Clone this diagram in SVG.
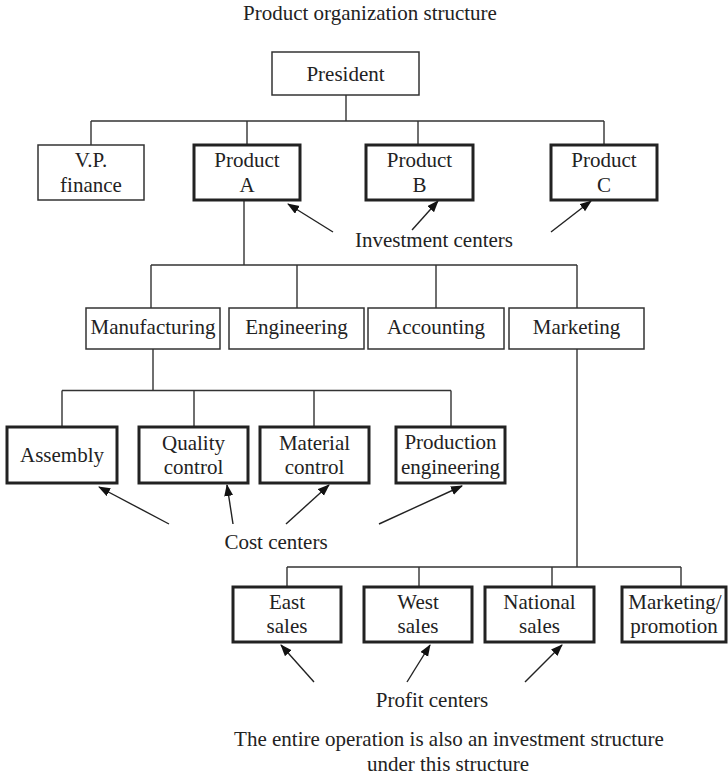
<svg xmlns="http://www.w3.org/2000/svg" width="728" height="776" viewBox="0 0 728 776">
  <style>
    text { font-family: "Liberation Serif", "Times New Roman", serif; font-size: 21px; fill: #222; text-anchor: middle; }
    .box { fill: #fff; stroke: #333; stroke-width: 1.5; }
    .center { fill: #fff; stroke: #222; stroke-width: 3; }
    .wire { fill: none; stroke: #333; stroke-width: 1.4; }
    .ptr { fill: none; stroke: #222; stroke-width: 1.4; marker-end: url(#head); }
  </style>
  <defs>
    <marker id="head" markerUnits="userSpaceOnUse" markerWidth="12" markerHeight="10" refX="11" refY="4.5" orient="auto">
      <path d="M0,0 L12,4.5 L0,9 Z" fill="#111"/>
    </marker>
  </defs>

  <text x="370" y="20">Product organization structure</text>

  <!-- tree connectors -->
  <g id="connectors">
    <path class="wire" d="M346,95 V121 M91,121 H604 M91,121 V145 M247,121 V145 M418,121 V145 M604,121 V145"/>
    <path class="wire" d="M244,200 V265 M151,265 H577 M151,265 V308 M297,265 V308 M436,265 V308 M577,265 V308"/>
    <path class="wire" d="M153,349 V390.5 M62,390.5 H451 M62,390.5 V427 M194,390.5 V427 M314,390.5 V427 M451,390.5 V427"/>
    <path class="wire" d="M577,349 V567 M287,567 H681 M287,567 V587 M419,567 V587 M552,567 V587 M681,567 V587"/>
  </g>

  <!-- responsibility-centre pointers -->
  <g id="pointers">
    <line class="ptr" x1="333" y1="232" x2="288" y2="204"/>
    <line class="ptr" x1="412" y1="230" x2="438" y2="201"/>
    <line class="ptr" x1="551" y1="232" x2="591" y2="201"/>
    <line class="ptr" x1="169" y1="524" x2="99" y2="487"/>
    <line class="ptr" x1="233" y1="524" x2="227" y2="485"/>
    <line class="ptr" x1="286" y1="524" x2="329" y2="485"/>
    <line class="ptr" x1="379" y1="524" x2="462" y2="486"/>
    <line class="ptr" x1="314" y1="682" x2="281" y2="645"/>
    <line class="ptr" x1="407" y1="682" x2="430" y2="645"/>
    <line class="ptr" x1="525" y1="682" x2="562" y2="645"/>
  </g>

  <g id="president"><rect class="box" x="272" y="52" width="147" height="43"/><text x="345.5" y="81">President</text></g>
  <g id="vp-finance"><rect class="box" x="38" y="145" width="106" height="55"/><text x="91" y="167">V.P.</text><text x="91" y="192">finance</text></g>
  <g id="product-a"><rect class="center" x="194" y="145" width="106" height="55"/><text x="247" y="167">Product</text><text x="247" y="192">A</text></g>
  <g id="product-b"><rect class="center" x="366" y="145" width="107" height="55"/><text x="419.5" y="167">Product</text><text x="419.5" y="192">B</text></g>
  <g id="product-c"><rect class="center" x="551" y="145" width="106" height="55"/><text x="604" y="167">Product</text><text x="604" y="192">C</text></g>

  <text x="434" y="247">Investment centers</text>

  <g id="manufacturing"><rect class="box" x="86" y="308" width="134" height="41"/><text x="153" y="334">Manufacturing</text></g>
  <g id="engineering"><rect class="box" x="229" y="308" width="135" height="41"/><text x="296.5" y="334">Engineering</text></g>
  <g id="accounting"><rect class="box" x="368" y="308" width="136" height="41"/><text x="436" y="334">Accounting</text></g>
  <g id="marketing"><rect class="box" x="509" y="308" width="135" height="41"/><text x="576.5" y="334">Marketing</text></g>

  <g id="assembly"><rect class="center" x="7" y="427" width="110" height="56"/><text x="62" y="462">Assembly</text></g>
  <g id="quality-control"><rect class="center" x="139" y="427" width="109" height="56"/><text x="193.5" y="450">Quality</text><text x="193.5" y="474">control</text></g>
  <g id="material-control"><rect class="center" x="260" y="427" width="109" height="56"/><text x="314.5" y="450">Material</text><text x="314.5" y="474">control</text></g>
  <g id="production-engineering"><rect class="center" x="396" y="427" width="109" height="56"/><text x="450.5" y="449">Production</text><text x="450.5" y="474">engineering</text></g>

  <text x="276" y="549">Cost centers</text>

  <g id="east-sales"><rect class="center" x="233" y="587" width="108" height="55"/><text x="287" y="609">East</text><text x="287" y="633">sales</text></g>
  <g id="west-sales"><rect class="center" x="364" y="587" width="108" height="55"/><text x="418" y="609">West</text><text x="418" y="633">sales</text></g>
  <g id="national-sales"><rect class="center" x="485" y="587" width="109" height="55"/><text x="539.5" y="609">National</text><text x="539.5" y="633">sales</text></g>
  <g id="marketing-promotion"><rect class="center" x="622" y="587" width="104" height="55"/><text x="675" y="609">Marketing/</text><text x="674" y="633">promotion</text></g>

  <text x="432" y="707">Profit centers</text>
  <text x="449" y="746">The entire operation is also an investment structure</text>
  <text x="448" y="771">under this structure</text>
</svg>
